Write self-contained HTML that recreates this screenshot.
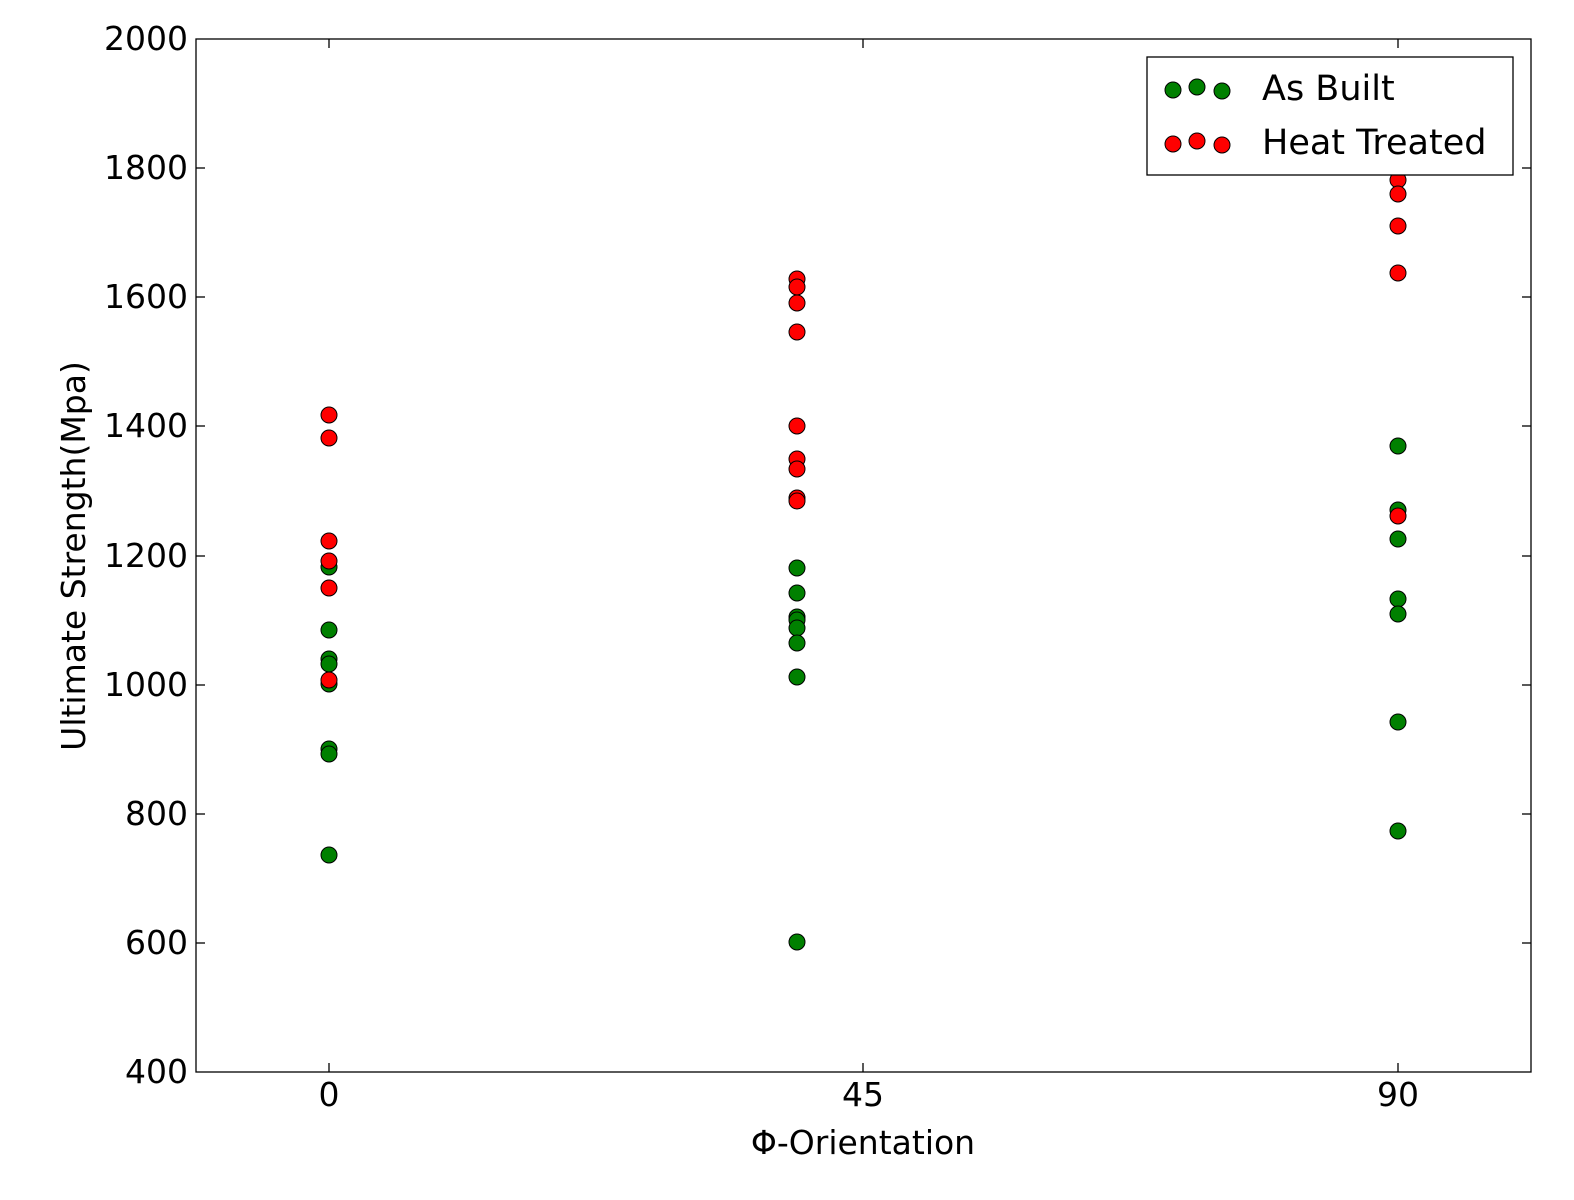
<!DOCTYPE html>
<html><head><style>body{margin:0;background:#fff}svg{display:block}text{font-family:"DejaVu Sans","Liberation Sans",sans-serif;fill:#000}</style></head><body>
<svg width="1574" height="1200" xmlns="http://www.w3.org/2000/svg">
<rect width="1574" height="1200" fill="#fff"/>
<g font-size="33" text-anchor="end">
<text x="188" y="50">2000</text><text x="188" y="179">1800</text><text x="188" y="308">1600</text><text x="188" y="437">1400</text><text x="188" y="567">1200</text><text x="188" y="696">1000</text><text x="188" y="825">800</text><text x="188" y="954">600</text><text x="188" y="1083">400</text>
</g>
<g font-size="33" text-anchor="middle">
<text x="329" y="1106">0</text><text x="863" y="1106">45</text><text x="1398" y="1106">90</text>
<text x="863" y="1154">Φ-Orientation</text>
<text transform="translate(85,556) rotate(-90)">Ultimate Strength(Mpa)</text>
</g>
<g stroke="#000" stroke-width="1.3">
<line x1="196" y1="168" x2="205" y2="168"/><line x1="196" y1="297" x2="205" y2="297"/><line x1="196" y1="426" x2="205" y2="426"/><line x1="196" y1="556" x2="205" y2="556"/><line x1="196" y1="685" x2="205" y2="685"/><line x1="196" y1="814" x2="205" y2="814"/><line x1="196" y1="943" x2="205" y2="943"/>
<line x1="1531" y1="168" x2="1522" y2="168"/><line x1="1531" y1="297" x2="1522" y2="297"/><line x1="1531" y1="426" x2="1522" y2="426"/><line x1="1531" y1="556" x2="1522" y2="556"/><line x1="1531" y1="685" x2="1522" y2="685"/><line x1="1531" y1="814" x2="1522" y2="814"/><line x1="1531" y1="943" x2="1522" y2="943"/>
<line x1="329" y1="1072" x2="329" y2="1063"/><line x1="863" y1="1072" x2="863" y2="1063"/><line x1="1398" y1="1072" x2="1398" y2="1063"/>
<line x1="329" y1="39" x2="329" y2="48"/><line x1="863" y1="39" x2="863" y2="48"/><line x1="1398" y1="39" x2="1398" y2="48"/>
</g>
<g stroke="#000" stroke-width="1" fill="#008000">
<circle cx="329" cy="567" r="8"/><circle cx="329" cy="630" r="8"/><circle cx="329" cy="659" r="8"/><circle cx="329" cy="664" r="8"/><circle cx="329" cy="684" r="8"/><circle cx="329" cy="749" r="8"/><circle cx="329" cy="754" r="8"/><circle cx="329" cy="855" r="8"/>
<circle cx="797" cy="568" r="8"/><circle cx="797" cy="593" r="8"/><circle cx="797" cy="617" r="8"/><circle cx="797" cy="620" r="8"/><circle cx="797" cy="628" r="8"/><circle cx="797" cy="643" r="8"/><circle cx="797" cy="677" r="8"/><circle cx="797" cy="942" r="8"/>
<circle cx="1398" cy="446" r="8"/><circle cx="1398" cy="510" r="8"/><circle cx="1398" cy="539" r="8"/><circle cx="1398" cy="599" r="8"/><circle cx="1398" cy="614" r="8"/><circle cx="1398" cy="722" r="8"/><circle cx="1398" cy="831" r="8"/>
</g>
<g stroke="#000" stroke-width="1" fill="#ff0000">
<circle cx="329" cy="415" r="8"/><circle cx="329" cy="438" r="8"/><circle cx="329" cy="541" r="8"/><circle cx="329" cy="561" r="8"/><circle cx="329" cy="588" r="8"/><circle cx="329" cy="680" r="8"/>
<circle cx="797" cy="279" r="8"/><circle cx="797" cy="287" r="8"/><circle cx="797" cy="303" r="8"/><circle cx="797" cy="332" r="8"/><circle cx="797" cy="426" r="8"/><circle cx="797" cy="459" r="8"/><circle cx="797" cy="469" r="8"/><circle cx="797" cy="498" r="8"/><circle cx="797" cy="501" r="8"/>
<circle cx="1398" cy="180" r="8"/><circle cx="1398" cy="194" r="8"/><circle cx="1398" cy="226" r="8"/><circle cx="1398" cy="273" r="8"/><circle cx="1398" cy="516" r="8"/>
</g>
<rect x="196" y="39" width="1335" height="1033" fill="none" stroke="#000" stroke-width="1.3"/>
<rect x="1147" y="57" width="366" height="118" fill="#fff" stroke="#000" stroke-width="1.3"/>
<g stroke="#000" stroke-width="1" fill="#008000"><circle cx="1173" cy="90" r="8"/><circle cx="1197" cy="87" r="8"/><circle cx="1222" cy="91" r="8"/></g>
<g stroke="#000" stroke-width="1" fill="#ff0000"><circle cx="1173" cy="144" r="8"/><circle cx="1197" cy="141" r="8"/><circle cx="1222" cy="145" r="8"/></g>
<text x="1262" y="100" font-size="35">As Built</text>
<text x="1262" y="154" font-size="35">Heat Treated</text>
</svg>
</body></html>
